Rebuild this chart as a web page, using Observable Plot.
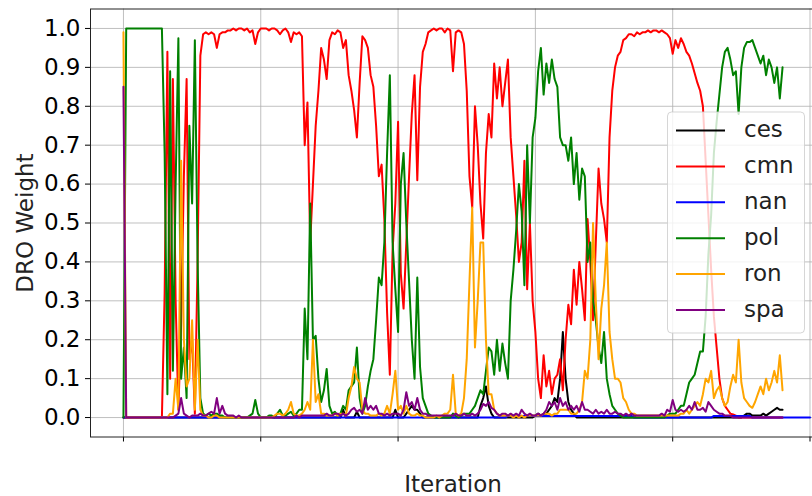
<!DOCTYPE html>
<html><head><meta charset="utf-8">
<script src="https://cdn.jsdelivr.net/npm/d3@7"></script>
<script src="https://cdn.jsdelivr.net/npm/@observablehq/plot@0.6"></script>
<style>body{margin:0;background:#fff;} svg{display:block;}</style>
</head><body><div id="chart"></div>
<script>
const seriesNames = ["ces","cmn","nan","pol","ron","spa"];
const seriesColors = ["black","red","blue","green","orange","purple"];
const iterStep = 20;

const ces = [
0,0,0,0,0,0,0,0,0,0, 0,0,0,0,0,0,0,0,0,0, 0,0,0,0,0,0,0,0,0,0, 0,0,0,0,0,0,0,0,0,0,
0,0,0,0,0,0,0,0,0,0, 0,0,0,0,0,0,0,0,0,0, 0,0,0,0,0,0,0,0,0,0, 0,0,0,0,0,0,0,0,0,0,
0.02,0,0,0,0,0.015,0,0,0,0, 0,0,0,0,0,0,0,0,0,0.02, 0,0,0,0.01,0.02,0.03,0.02,0.02,0.01,0,
0,0,0,0,0,0,0,0,0,0, 0,0,0,0,0,0,0,0,0,0, 0.03,0.05,0.08,0.03,0.01,0,0,0,0,0,
0,0,0,0,0,0,0,0,0,0, 0.005,0.01,0.005,0.01,0.01,0.02,0.03,0.05,0.04,0.10,
0.22,0.10,0.04,0.02,0.01,0,0,0,0,0, 0,0,0,0,0,0,0,0,0,0, 0,0,0,0,0,0,0,0,0,0,
0,0,0,0,0,0,0,0,0,0, 0,0,0,0,0,0,0,0,0,0, 0,0,0,0,0,0,0,0,0,0,
0,0,0,0,0,0,0.005,0.01,0.01,0.005, 0.005,0.005,0.005,0.01,0.005,0.01,0.015,0.02,0.025,0.02,
0.02];

const cmn = [
0,0,0,0,0,0,0,0,0,0, 0,0,0,0,0,0.32,0.94,0.10,0.87,0.30,
0.02,0.24,0.62,0.87,0.15,0.20,0.01,0.40,0.93,0.985, 0.99,0.985,0.99,0.985,0.95,0.985,0.99,0.99,0.995,0.995,
1.0,0.995,1.0,1.0,0.995,1.0,0.99,0.995,0.96,0.99, 1.0,1.0,1.0,0.995,1.0,1.0,0.995,0.985,0.995,1.0,
0.99,0.965,0.99,0.985,0.99,0.98,0.70,0.81,0.45,0.60, 0.75,0.84,0.95,0.92,0.87,0.97,0.99,0.985,0.995,0.99,
0.95,0.97,0.88,0.84,0.79,0.72,0.86,0.98,0.97,0.95, 0.88,0.85,0.75,0.62,0.65,0.51,0.27,0.11,0.43,0.55,
0.76,0.37,0.28,0.45,0.62,0.78,0.88,0.61,0.85,0.94, 0.96,0.99,0.995,1.0,0.995,1.0,1.0,0.99,1.0,0.995,
0.89,0.99,0.995,0.99,0.96,0.84,0.62,0.54,0.80,0.70, 0.55,0.46,0.68,0.78,0.72,0.91,0.82,0.90,0.80,0.86,
0.92,0.72,0.62,0.52,0.40,0.45,0.66,0.33,0.50,0.30, 0.22,0.10,0.05,0.16,0.08,0.12,0.06,0.10,0.11,0.15,
0.07,0.20,0.29,0.24,0.38,0.29,0.40,0.33,0.25,0.51, 0.40,0.25,0.45,0.64,0.55,0.51,0.45,0.72,0.84,0.90,
0.93,0.94,0.97,0.975,0.985,0.985,0.98,0.99,0.985,0.99, 0.99,0.995,0.99,0.995,0.995,0.99,0.995,0.99,0.985,0.975,
0.935,0.97,0.95,0.975,0.96,0.94,0.93,0.91,0.885,0.86, 0.84,0.80,0.66,0.52,0.38,0.26,0.18,0.10,0.05,0.03,
0.02,0.01,0.008,0.005,0,0,0,0,0,0, 0,0,0,0,0,0,0,0,0,0,
0];

const nan = [
0,0,0,0,0,0,0,0,0,0, 0,0,0,0,0,0,0,0,0,0, 0,0,0,0,0,0,0,0,0,0, 0,0,0,0,0,0,0,0,0,0,
0,0,0,0,0,0,0,0,0,0, 0,0,0,0,0,0,0,0,0,0, 0,0,0,0,0,0,0,0,0,0, 0,0,0,0,0,0,0,0,0,0,
0,0,0,0,0,0,0,0,0,0, 0,0,0,0,0,0,0,0,0,0, 0,0,0,0,0,0,0,0,0,0, 0,0,0,0,0,0,0,0,0,0,
0,0,0,0,0,0,0,0,0,0, 0,0,0,0,0,0,0,0,0,0, 0.004,0.004,0.004,0.004,0.004,0.004,0.004,0.004,0.004,0.004,
0.004,0.004,0.004,0.004,0.004,0.004,0.004,0.004,0.004,0.004, 0.004,0.004,0.004,0.004,0.004,0.004,0.004,0.004,0.004,0.004,
0.004,0.004,0.004,0.004,0.004,0.004,0.004,0.004,0.004,0.004, 0.004,0.004,0.004,0.004,0.004,0.004,0,0,0,0,
0,0,0,0,0,0,0,0,0,0, 0,0,0,0,0,0,0,0,0,0, 0,0,0,0,0,0.004,0.004,0.004,0.004,0.004,
0.004,0.004,0.004,0.004,0.004,0.004,0.004,0.004,0.004,0, 0,0,0,0,0,0,0,0,0,0, 0,0,0,0,0,0,0,0,0,0,
0];

const pol = [
0,1,1,1,1,1,1,1,1,1, 1,1,1,1,1,0.68,0.06,0.89,0.12,0.60,
0.975,0.10,0.18,0.05,0.75,0.55,0.97,0.40,0.05,0.01, 0.005,0.01,0.005,0.01,0.01,0.005,0.005,0,0,0,
0,0,0,0,0,0,0.005,0.01,0.045,0.01, 0,0,0,0.005,0.005,0,0.01,0.02,0.005,0.005,
0.01,0.015,0.005,0.01,0.02,0.02,0.28,0.15,0.55,0.20, 0.21,0.10,0.04,0.07,0.125,0.03,0.01,0.015,0.005,0.01,
0.03,0.02,0.07,0.08,0.09,0.18,0.05,0.01,0.03,0.08, 0.12,0.15,0.25,0.36,0.34,0.45,0.68,0.88,0.45,0.33,
0.22,0.60,0.68,0.50,0.35,0.20,0.10,0.36,0.13,0.05, 0.03,0.01,0.005,0,0,0,0,0,0,0,
0.01,0.005,0,0.005,0.01,0.01,0.01,0.02,0.03,0.05, 0.07,0.06,0.12,0.18,0.17,0.11,0.20,0.12,0.19,0.14,
0.10,0.30,0.38,0.48,0.60,0.53,0.34,0.70,0.50,0.72, 0.77,0.89,0.95,0.83,0.91,0.86,0.92,0.87,0.85,0.72,
0.70,0.70,0.66,0.72,0.60,0.68,0.56,0.64,0.62,0.40, 0.45,0.30,0.25,0.18,0.14,0.22,0.10,0.06,0.03,0.02,
0.01,0.005,0,0,0,0,0,0,0,0, 0,0,0,0,0,0,0,0,0.005,0.01,
0.01,0.01,0.02,0.03,0.03,0.06,0.09,0.10,0.11,0.14, 0.17,0.17,0.26,0.42,0.52,0.68,0.76,0.83,0.90,0.94,
0.95,0.92,0.88,0.89,0.78,0.90,0.95,0.965,0.965,0.97, 0.95,0.93,0.91,0.93,0.88,0.92,0.90,0.86,0.90,0.82,
0.90];

const ron = [
0.99,0,0,0,0,0,0,0,0,0, 0,0,0,0,0,0,0,0.01,0.01,0.10,
0.02,0.66,0.20,0.08,0.10,0.25,0.02,0.20,0.02,0.005, 0.005,0,0,0.005,0.005,0,0,0,0,0,
0,0,0,0,0,0,0,0,0,0, 0,0,0,0,0,0.005,0.01,0.01,0.005,0.01,
0.02,0.04,0.01,0.005,0.005,0.01,0.02,0.04,0.02,0.20, 0.04,0.06,0.01,0.01,0.005,0.005,0.005,0.01,0.005,0.01,
0.01,0.005,0.05,0.08,0.13,0.10,0.09,0.02,0.01,0.01, 0.005,0.005,0.005,0.01,0.005,0.01,0.03,0.01,0.06,0.12,
0.02,0.03,0.01,0.03,0.01,0.005,0.005,0.01,0.005,0.005, 0,0,0,0,0.005,0,0.005,0.01,0.01,0.02,
0.11,0.01,0.005,0.01,0.05,0.15,0.35,0.54,0.18,0.30, 0.45,0.45,0.20,0.06,0.06,0.02,0.01,0.005,0.005,0.005,
0.005,0.005,0,0.005,0,0.005,0,0.005,0.005,0.005, 0.005,0.005,0.005,0.01,0.01,0.01,0.005,0.01,0.01,0.02,
0.02,0.02,0.02,0.01,0.01,0.01,0.02,0.04,0.12,0.10, 0.20,0.50,0.30,0.15,0.28,0.34,0.45,0.22,0.15,0.10,
0.10,0.09,0.05,0.04,0.02,0.01,0.01,0.005,0.005,0.005, 0.005,0.005,0.005,0.005,0.005,0.005,0.005,0.005,0.005,0.005,
0.005,0.005,0.005,0.01,0.01,0.02,0.01,0.02,0.03,0.04, 0.03,0.06,0.10,0.09,0.12,0.05,0.07,0.08,0.05,0.03,
0.04,0.08,0.11,0.09,0.20,0.09,0.05,0.04,0.03,0.025, 0.04,0.06,0.08,0.06,0.10,0.07,0.09,0.12,0.09,0.16,
0.07];

const spa = [
0.85,0,0,0,0,0,0,0,0,0, 0,0,0,0,0,0,0,0,0,0.005,
0.01,0.05,0.01,0.005,0,0.005,0.005,0.005,0.01,0.005, 0.005,0.01,0.015,0.01,0.05,0.01,0.03,0.01,0.005,0.005,
0.005,0,0.005,0,0,0,0,0,0,0, 0,0,0,0,0,0,0,0,0,0,
0,0,0,0.005,0,0.005,0.005,0.005,0.005,0.005, 0.005,0.005,0.005,0.005,0.01,0.005,0.005,0.01,0.01,0.005,
0.01,0.005,0.01,0.02,0.025,0.015,0.02,0.01,0.05,0.02, 0.03,0.02,0.03,0.01,0.01,0.005,0.01,0.005,0.01,0.01,
0.01,0.005,0.02,0.065,0.03,0.04,0.02,0.05,0.02,0.01, 0.01,0.005,0.005,0.005,0.005,0.005,0.005,0.005,0.005,0.005,
0.005,0.01,0.005,0.005,0.01,0.005,0.005,0.01,0.005,0.01, 0.02,0.035,0.03,0.04,0.025,0.02,0.01,0.005,0.01,0.01,
0.005,0.01,0.005,0.01,0.005,0.02,0.01,0.005,0.01,0.005, 0.005,0.01,0.005,0.01,0.02,0.04,0.03,0.04,0.02,0.05,
0.03,0.04,0.02,0.03,0.02,0.03,0.015,0.04,0.02,0.02, 0.015,0.01,0.02,0.01,0.015,0.01,0.02,0.01,0.01,0.015,
0.01,0.01,0.005,0.01,0.005,0.01,0.005,0.005,0.005,0.005, 0.005,0.005,0.005,0.005,0.005,0.005,0.01,0.005,0.02,0.015,
0.045,0.02,0.015,0.02,0.015,0.02,0.03,0.02,0.04,0.02, 0.02,0.025,0.015,0.04,0.03,0.02,0.015,0.01,0.01,0.005,
0.005,0.005,0,0,0,0,0,0,0,0, 0,0,0,0,0,0,0,0,0,0,
0];

const xTicks = [0, 1000, 2000, 3000, 4000, 5000];
const yTicks = [0, 0.1, 0.2, 0.3, 0.4, 0.5, 0.6, 0.7, 0.8, 0.9, 1.0];
const yTickLabels = ["0.0","0.1","0.2","0.3","0.4","0.5","0.6","0.7","0.8","0.9","1.0"];
const xLabel = "Iteration";
const yLabel = "DRO Weight";

const allSeries = [ces, cmn, nan, pol, ron, spa];
const rows = [];
allSeries.forEach((arr, k) => arr.forEach((v, i) => rows.push({series: seriesNames[k], iter: i * iterStep, w: v})));

const chart = Plot.plot({
  width: 812,
  height: 496,
  marginLeft: 90,
  marginRight: -3,
  marginTop: 8.5,
  marginBottom: 59.5,
  style: {fontFamily: "DejaVu Sans", fontSize: "23px", background: "white", color: "black", overflow: "visible"},
  x: {domain: [-240, 5040], ticks: xTicks, tickFormat: () => "", tickSize: 5, label: null},
  y: {domain: [-0.05, 1.05], ticks: yTicks, tickFormat: d => yTickLabels[yTicks.indexOf(d)], tickSize: 5, tickPadding: 5, label: null},
  color: {domain: seriesNames, range: seriesColors},
  marks: [
    Plot.ruleY(yTicks, {stroke: "#b0b0b0", strokeWidth: 1, strokeOpacity: 0.8}),
    Plot.ruleX(xTicks, {stroke: "#b0b0b0", strokeWidth: 1, strokeOpacity: 0.8}),
    Plot.line(rows, {x: "iter", y: "w", z: "series", stroke: "series", strokeWidth: 2}),
    Plot.frame({stroke: "#222"}),
    Plot.text([xLabel], {frameAnchor: "bottom", dy: 48, lineAnchor: "middle", textAnchor: "middle", text: d => d, fill: "#222"}),
    Plot.text([yLabel], {frameAnchor: "left", dx: -65, rotate: -90, lineAnchor: "middle", textAnchor: "middle", text: d => d, fill: "#222"})
  ]
});
document.getElementById("chart").appendChild(chart);

// legend
const svg = d3.select(chart);
const lg = svg.append("g").attr("font-family", "DejaVu Sans").attr("font-size", 23).attr("text-anchor", "start");
lg.append("rect").attr("x", 667.5).attr("y", 112).attr("width", 137).attr("height", 221).attr("rx", 4)
  .attr("fill", "white").attr("fill-opacity", 0.8).attr("stroke", "#cccccc").attr("stroke-opacity", 0.8);
seriesNames.forEach((s, k) => {
  const yy = 130.5 + k * 35.9;
  lg.append("line").attr("x1", 676).attr("x2", 725).attr("y1", yy).attr("y2", yy)
    .attr("stroke", seriesColors[k]).attr("stroke-width", 2);
  lg.append("text").attr("x", 744).attr("y", yy).attr("dy", "0.3em").attr("text-anchor", "start").attr("fill", "#222").text(s);
});
</script>
</body></html>
